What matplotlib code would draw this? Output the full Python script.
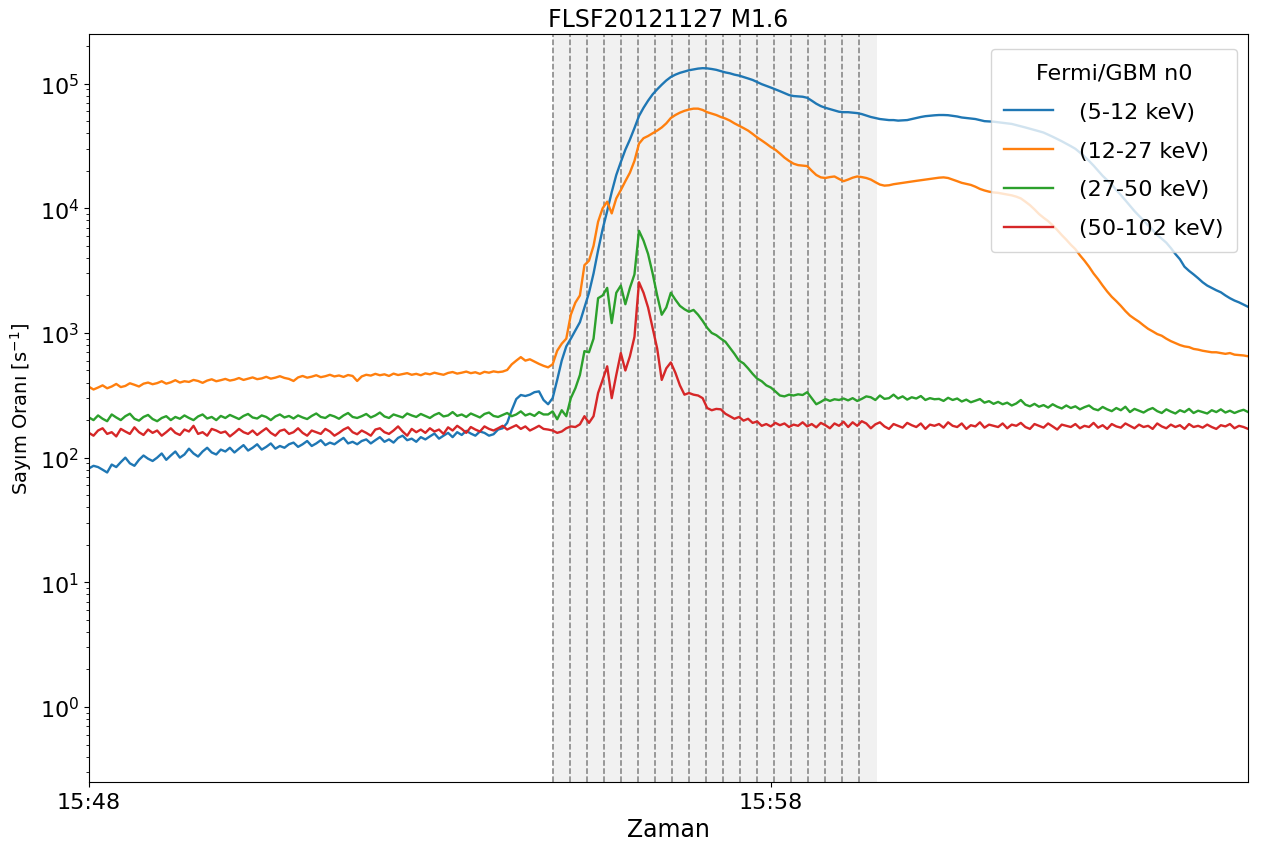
import numpy as np
import pandas as pd
import matplotlib
matplotlib.use("Agg")
import matplotlib.pyplot as plt
import matplotlib.dates as mdates

# Fermi/GBM n0 count rates, 4 s bins starting at 15:48:00
t_start = "2012-11-27 15:48:00"
bin_s = 4

rate_5_12 = [
    82, 86, 84, 80, 76, 88, 84, 92, 100, 90, 86, 96, 104, 98, 94,
    100, 108, 96, 104, 112, 100, 106, 118, 108, 102, 112, 120, 110, 106, 116,
    112, 120, 110, 118, 126, 114, 120, 128, 116, 122, 130, 118, 124, 120, 128,
    132, 122, 128, 136, 124, 130, 138, 126, 132, 128, 136, 144, 130, 134, 128,
    136, 140, 130, 138, 146, 134, 140, 132, 144, 150, 138, 142, 134, 146, 140,
    148, 156, 142, 150, 158, 146, 160, 152, 164, 156, 150, 162, 158, 150, 154,
    168, 172, 190, 240, 295, 318, 312, 320, 335, 340,
    290, 268, 300, 420, 600, 780, 900, 1050, 1220, 1600, 2100, 3000, 4600, 6800, 9500,
    13500, 18500, 23500, 29500, 35600, 44000, 55000, 64000, 73000, 82000, 90000, 98000, 106000, 113000, 118000,
    122000, 125000, 128000, 130000, 132000, 133000, 132500, 131000, 129000, 126000, 123000, 121000, 118000, 116000, 113000,
    110000, 107000, 103000, 99000, 96000, 93000, 90000, 87000, 84000, 81000, 79500, 79000, 78500, 77000, 73000,
    69000, 66000, 64000, 62500, 61000, 59500, 59000, 59000, 58500, 58000, 57000, 55500,
    54000, 53000, 52000, 51500, 51000, 51000, 50500, 50800, 51000, 52000, 53000, 54000, 54800, 55300, 55700,
    56000, 56000, 55800, 55200, 54500, 53500, 53000, 52500, 52000, 51000, 50000, 49800, 49500, 49000, 48500,
    48000, 47500, 46500, 45500, 44500, 43500, 42500, 41500, 40500, 39000, 37500, 36000, 34500, 33000, 31500,
    30000, 28000, 26000, 24000, 22000, 20000, 18200, 16800, 15500, 14000, 12800, 11600, 10500, 9500, 8700,
    8000, 7300, 6700, 6100, 5700, 5300, 4800, 4300, 3900, 3400, 3150, 2950, 2750, 2550, 2400,
    2300, 2200, 2120, 2000, 1900, 1820, 1760, 1690, 1620,
]

rate_12_27 = [
    370, 352, 365, 380, 360, 372, 390, 368, 376, 395, 384, 372, 392, 400, 388,
    396, 410, 392, 402, 418, 400, 410, 405, 420, 412, 398, 415, 425, 410, 418,
    428, 415, 422, 435, 420, 430, 440, 426, 432, 445, 430, 438, 450, 436, 428,
    412, 440, 452, 438, 446, 458, 442, 450, 462, 448, 456, 444, 460, 452, 412,
    448, 462, 455, 470, 458, 466, 452, 472, 460, 468, 476, 462, 470, 458, 474,
    466, 480, 470, 462, 478, 486, 472, 480, 490, 476, 484, 470, 488, 480, 492,
    485, 490, 505, 560, 600, 640, 600, 615, 590, 565,
    545, 530, 560, 720, 820, 900, 1400, 1750, 2000, 3500, 3800, 5000, 7800, 10000, 11300,
    9100, 12000, 14000, 16500, 19300, 24000, 33000, 36500, 38000, 40000, 42000, 44500, 48000, 53000, 56000,
    58500, 60500, 62000, 63000, 63000, 61500, 59000, 57500, 56000, 54000, 52500, 50500, 48000, 46000, 44000,
    42000, 39500, 37000, 35000, 33000, 31000, 29500, 27500, 25500, 24000, 22800, 22200, 22000, 21800, 20000,
    18500, 17700, 17500, 17800, 18000, 17200, 16500, 17000, 17600, 18000, 17800, 17500,
    17000, 16200, 15500, 15200, 15300, 15600, 15800, 16000, 16200, 16400, 16600, 16800, 17000, 17200, 17400,
    17600, 17700, 17500, 17000, 16500, 16000, 15700, 15400, 14900, 14300, 13900, 13600, 13400, 13300, 13100,
    12900, 12700, 12400, 12000, 11300, 10600, 9800, 9000, 8400, 7900, 7300, 6700, 6100, 5600, 5100,
    4700, 4200, 3800, 3400, 3000, 2700, 2400, 2150, 1950, 1800, 1650, 1500, 1380, 1300, 1230,
    1150, 1080, 1030, 980, 950, 900, 860, 830, 800, 780, 770, 745, 735, 720, 710,
    700, 700, 690, 680, 690, 670, 665, 660, 650,
]

rate_27_50 = [
    210, 200, 218, 205, 196, 222, 210, 200, 215, 225, 205, 198, 212, 220, 204,
    196, 208, 215, 200, 212, 205, 218, 208, 200, 214, 222, 206, 212, 200, 216,
    208, 220, 212, 204, 216, 224, 210, 206, 218, 212, 200, 214, 222, 210, 216,
    206, 218, 210, 204, 216, 226, 212, 208, 220, 214, 205, 218, 228, 212, 208,
    215, 224, 210, 218, 230, 214, 208, 222, 216, 210, 226, 218, 212, 224, 216,
    208, 220, 228, 214, 218, 232, 216, 222, 212, 226, 218, 210, 224, 230, 216,
    212, 220, 228, 215, 222, 235, 218, 225, 216, 232,
    222, 222, 235, 203, 240, 215, 300, 360, 460, 715, 700, 900, 1900, 2000, 2300,
    1200, 2100, 2400, 1700, 2300, 2950, 6600, 5500, 4300, 3000, 2000, 1400, 1600, 2100, 1850,
    1650, 1550, 1480, 1530, 1400, 1250, 1100, 1000, 960, 900, 850, 760, 680, 600, 570,
    520, 470, 430, 410, 380, 365, 340, 315, 310, 320, 315, 322, 318, 335, 300,
    268, 280, 295, 285, 294, 290, 298, 288, 300, 285, 296, 310,
    305, 290, 315, 296, 300, 320, 298, 310, 292, 305, 298, 312, 290, 300, 294,
    296, 285, 302, 290, 298, 282, 292, 278, 286, 295, 276, 284, 270, 280, 268,
    276, 262, 272, 290, 266, 258, 270, 256, 264, 252, 268, 256, 248, 262, 250,
    258, 244, 254, 262, 246, 240, 255, 244, 236, 250, 240, 256, 232, 246, 238,
    230, 242, 250, 236, 228, 244, 234, 226, 240, 232, 246, 228, 238, 232, 226,
    240, 232, 244, 230, 238, 228, 236, 242, 232,
]

rate_50_102 = [
    158, 150, 165, 172, 155, 160, 148, 170, 162, 155, 175, 160, 152, 168, 158,
    165, 150, 160, 172, 158, 152, 168, 162, 180, 155, 160, 150, 170, 165, 158,
    162, 148, 158, 170, 160, 155, 165, 152, 162, 172, 158, 150, 164, 168, 155,
    160, 172, 158, 150, 165, 160, 155, 170, 162, 150, 158, 168, 175, 160, 154,
    165, 158, 150, 168, 172, 160, 155, 165, 178, 162, 150, 170, 160, 168, 158,
    172, 162, 168, 155, 175, 165, 180, 170, 158, 176, 168, 162, 178, 170, 165,
    172, 180, 168, 175, 182, 170, 178, 165, 172, 180,
    170, 168, 165, 158, 162, 172, 178, 176, 185, 215, 190, 215, 330, 420, 540,
    300, 460, 690, 500, 650, 930, 2550, 2100, 1600, 1100, 750, 420, 520, 580, 480,
    380, 320, 330, 320, 315, 300, 250, 240, 246, 244, 225, 215, 205, 212, 198,
    205, 190, 195, 180, 186, 178, 190, 182, 188, 176, 184, 180, 192, 178, 186,
    175, 190, 182, 172, 188, 180, 194, 176, 192, 180, 196, 188,
    172, 185, 192, 178, 170, 186, 180, 174, 190, 182, 176, 188, 170, 184, 180,
    186, 174, 192, 180, 176, 188, 170, 182, 178, 192, 174, 184, 180, 176, 188,
    172, 184, 180, 190, 176, 170, 186, 180, 174, 188, 178, 168, 184, 180, 176,
    186, 172, 180, 176, 190, 174, 182, 170, 186, 178, 174, 188, 180, 172, 184,
    176, 180, 170, 188, 178, 172, 184, 176, 182, 170, 186, 176, 180, 174, 184,
    176, 170, 182, 178, 186, 172, 180, 176, 170,
]

band_labels = ["(5-12 keV)", "(12-27 keV)", "(27-50 keV)", "(50-102 keV)"]
band_colors = ["#1f77b4", "#ff7f0e", "#2ca02c", "#d62728"]

# analysis window: 15 s steps, shaded up to one step after the last line
win_start = pd.Timestamp("2012-11-27 15:54:48")
win_step_s = 15
win_lines = 19

series = [rate_5_12, rate_12_27, rate_27_50, rate_50_102]
n = len(rate_5_12)
assert all(len(s) == n for s in series)
times = pd.Timestamp(t_start) + pd.to_timedelta(np.arange(n) * bin_s, unit="s")

fig = plt.figure(figsize=(12.62, 8.54), dpi=100)
ax = fig.add_axes([0.0705, 0.0831, 0.9185, 0.8759])

for rate, lab, col in zip(series, band_labels, band_colors):
    ax.plot(times, rate, color=col, lw=1.7, label=lab)

line_times = [win_start + pd.Timedelta(seconds=win_step_s * k) for k in range(win_lines)]
for lt in line_times:
    ax.axvline(lt, color="gray", ls="--", lw=1.1, zorder=0.5)
ax.axvspan(win_start, line_times[-1] + pd.Timedelta(seconds=win_step_s),
           color="lightgray", alpha=0.3, lw=0, zorder=0.4)

ax.set_yscale("log")
ax.set_ylim(0.25, 2.5e5)
ax.set_xlim(pd.Timestamp("2012-11-27 15:48:00"), pd.Timestamp("2012-11-27 16:05:00"))
ax.set_xticks([pd.Timestamp("2012-11-27 15:48:00"), pd.Timestamp("2012-11-27 15:58:00")])
ax.xaxis.set_major_formatter(mdates.DateFormatter("%H:%M"))
ax.tick_params(axis="both", which="major", labelsize=16)

ax.set_title("FLSF20121127 M1.6", fontsize=17)
ax.set_xlabel("Zaman", fontsize=17)
ax.set_ylabel("Sayım Oranı [s$^{-1}$]", fontsize=14)

leg = ax.legend(title="Fermi/GBM n0", fontsize=16, title_fontsize=16,
                loc="upper right", bbox_to_anchor=(0.9905, 0.98), borderaxespad=0,
                handlelength=2.2, handletextpad=1.15, labelspacing=0.85,
                borderpad=0.62)

fig.savefig("out.png", dpi=100)
